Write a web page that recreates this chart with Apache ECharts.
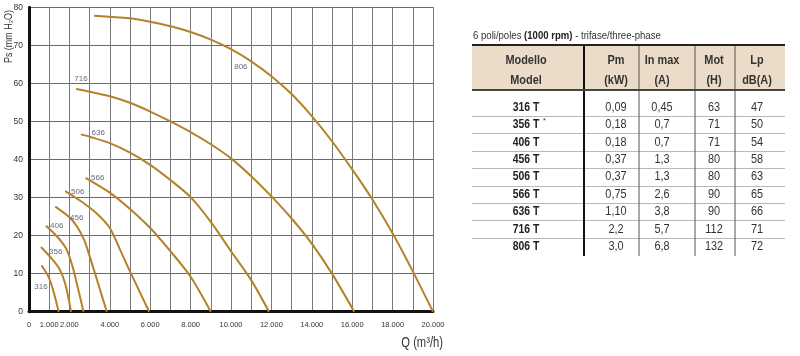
<!DOCTYPE html>
<html>
<head>
<meta charset="utf-8">
<script src="https://cdn.jsdelivr.net/npm/echarts@6/dist/echarts.min.js"></script>
<style>html,body{margin:0;padding:0;background:#fff}#c{width:800px;height:356px}</style>
</head>
<body>
<div id="c"></div>
<script>
// ---- data ----
const curveNames = ['806','716','636','566','506','456','406','356','316'];
const curve806 = [[3220,77.8],[5000,77.1],[6000,76.2],[7000,75.0],[8000,73.5],[9000,71.5],[10000,69.0],[11000,65.8],[12000,61.9],[13000,57.2],[14000,51.4],[15000,44.8],[16000,37.4],[17000,29.5],[18000,20.6],[19000,10.6],[20000,0]];
const curve716 = [[2330,58.5],[3000,57.8],[4000,56.6],[5000,54.9],[6000,52.6],[7000,50.0],[8000,47.2],[9000,44.0],[10000,40.3],[11000,35.6],[12000,30.3],[13000,24.5],[14000,17.9],[15000,10.0],[16100,0]];
const curve636 = [[2570,46.6],[3000,46.0],[4000,44.3],[5000,41.8],[6000,38.6],[7000,34.6],[8000,30.1],[9000,23.6],[10000,15.9],[11000,8.3],[11880,0]];
const curve566 = [[2800,35.2],[4000,31.3],[5000,27.0],[6000,22.0],[7000,15.9],[8000,9.2],[9000,0]];
const curve506 = [[1790,31.7],[2560,29.1],[3380,25.7],[4000,22.0],[4500,16.4],[5000,10.6],[5950,0]];
const curve456 = [[1300,27.6],[2000,24.8],[2400,22.2],[2750,18.6],[3000,14.6],[3400,7.8],[3850,0]];
const curve406 = [[840,22.6],[1400,19.7],[1850,16.5],[2150,12.0],[2350,7.8],[2700,0]];
const curve356 = [[590,17.0],[1000,14.7],[1490,11.4],[1800,7.2],[2080,0]];
const curve316 = [[620,12.2],[980,9.0],[1230,5.0],[1470,0]];
const curveLabelPos = [[10490,64.4],[2570,61.2],[3430,47.0],[3400,35.3],[2410,31.5],[2360,24.8],[1370,22.5],[1320,15.8],[590,6.6]];
const xLabelValues = [0,1000,2000,4000,6000,8000,10000,12000,14000,16000,18000,20000];

const tableTitle = ['6 poli/poles ', '(1000 rpm)', ' - trifase/three-phase'];
const headerTop = ['Modello','Pm','In max','Mot','Lp'];
const headerBottom = ['Model','(kW)','(A)','(H)','dB(A)'];
const models = ['316 T','356 T','406 T','456 T','506 T','566 T','636 T','716 T','806 T'];
const modelMarks = ['','*','','','','','','',''];
const pm = ['0,09','0,18','0,18','0,37','0,37','0,75','1,10','2,2','3,0'];
const inMax = ['0,45','0,7','0,7','1,3','1,3','2,6','3,8','5,7','6,8'];
const mot = ['63','71','71','80','80','90','90','112','132'];
const lp = ['47','50','54','58','63','65','66','71','72'];

// ---- style ----
const FONT = "'Liberation Sans',Arial,sans-serif";
const CURVE = '#b5812a';
const NARROW = 0.84;
const curves = [curve806,curve716,curve636,curve566,curve506,curve456,curve406,curve356,curve316];

const series = curves.map((d,i)=>({
  type:'line', name:curveNames[i], data:d, smooth:0.3, symbol:'none',
  lineStyle:{color:CURVE,width:2}, silent:true, z:3
}));
series.push({
  type:'scatter', symbolSize:1, itemStyle:{color:'rgba(0,0,0,0)'},
  data: curveLabelPos.map((p,i)=>({value:p,name:curveNames[i]})),
  label:{show:true,position:'inside',formatter:p=>p.name,fontFamily:FONT,fontSize:8,color:'#3c3f55'},
  silent:true, z:4
});

// ---- table graphics ----
const g = [];
const TX0 = 472, TX1 = 785;
const colX = [526, 616, 662, 714, 757];
const vLines = [[584,2,'#111'],[639,1,'#555'],[695,1,'#555'],[735,1,'#555']];
const rowY0 = 107.3, rowH = 17.4;
function txt(x,y,style,sx){
  return {type:'text', x:x, y:y, scaleX:sx||NARROW, style:Object.assign({x:0,y:0},style)};
}
g.push(txt(473,36,{
  text:'{n|'+tableTitle[0]+'}{b|'+tableTitle[1]+'}{n|'+tableTitle[2]+'}',
  verticalAlign:'middle',align:'left',
  rich:{n:{fontFamily:FONT,fontSize:11,fill:'#333'},b:{fontFamily:FONT,fontSize:11,fontWeight:'bold',fill:'#222'}}
},0.87));
g.push({type:'rect', shape:{x:TX0,y:45,width:TX1-TX0,height:45}, style:{fill:'#eadcc8'}});
for (let i=0;i<models.length-1;i++){
  const y = Math.round(rowY0 + i*rowH + rowH/2)+0.5;
  g.push({type:'line', shape:{x1:TX0,y1:y,x2:TX1,y2:y}, style:{stroke:'#b8b8b8',lineWidth:1}});
}
vLines.forEach(v=>g.push({type:'line', shape:{x1:v[0],y1:45,x2:v[0],y2:256}, style:{stroke:v[2],lineWidth:v[1]}}));
g.push({type:'line', shape:{x1:TX0,y1:45,x2:TX1,y2:45}, style:{stroke:'#222',lineWidth:2}});
g.push({type:'line', shape:{x1:TX0,y1:90,x2:TX1,y2:90}, style:{stroke:'#444',lineWidth:2}});
headerTop.forEach((t,i)=>{
  g.push(txt(colX[i],60,{text:t,fontFamily:FONT,fontSize:13,fontWeight:'bold',fill:'#333',align:'center',verticalAlign:'middle'}));
  g.push(txt(colX[i],80,{text:headerBottom[i],fontFamily:FONT,fontSize:13,fontWeight:'bold',fill:'#333',align:'center',verticalAlign:'middle'}));
});
const cols = [pm,inMax,mot,lp];
models.forEach((m,r)=>{
  const y = rowY0 + r*rowH;
  g.push(txt(colX[0],y,{text:m,fontFamily:FONT,fontSize:13,fontWeight:'bold',fill:'#222',align:'center',verticalAlign:'middle'},0.8));
  if (modelMarks[r]) g.push(txt(colX[0]+17,y-4,{text:modelMarks[r],fontFamily:FONT,fontSize:8,fill:'#222',align:'left',verticalAlign:'middle'}));
  cols.forEach((c,k)=>{
    g.push(txt(colX[k+1],y,{text:c[r],fontFamily:FONT,fontSize:13,fill:'#333',align:'center',verticalAlign:'middle'},0.84));
  });
});
// axis titles
g.push({type:'text', x:9, y:36.5, rotation:Math.PI/2, scaleX:0.85, style:{x:0,y:0,text:'Ps (mm H₂O)',fontFamily:FONT,fontSize:10.5,fill:'#333',align:'center',verticalAlign:'middle'}});
g.push(txt(443,343,{text:'Q (m³/h)',fontFamily:FONT,fontSize:14,fill:'#333',align:'right',verticalAlign:'middle'},0.8));

const fmtK = v => v===0 ? '0' : (v/1000).toFixed(0)+'.000';

const chart = echarts.init(document.getElementById('c'));
chart.setOption({
  animation:false,
  backgroundColor:'#fff',
  grid:{left:29,right:367,top:7.3,bottom:44.3,containLabel:false},
  xAxis:{type:'value',min:0,max:20000,interval:1000,
    axisLine:{show:true,onZero:false,lineStyle:{color:'#111',width:3}},
    axisTick:{show:false},
    splitLine:{show:true,lineStyle:{color:'#7a7a7a',width:1}},
    axisLabel:{show:true,margin:9,fontFamily:FONT,fontSize:7.5,color:'#333',showMinLabel:true,showMaxLabel:true,hideOverlap:false,
      formatter:v=> xLabelValues.indexOf(v)>=0 ? fmtK(v) : ''}
  },
  yAxis:{type:'value',min:0,max:80,interval:10,
    axisLine:{show:true,onZero:false,lineStyle:{color:'#111',width:3}},
    axisTick:{show:false},
    splitLine:{show:true,lineStyle:{color:'#6a6a6a',width:1}},
    axisLabel:{margin:6,fontFamily:FONT,fontSize:8.5,color:'#333'}
  },
  series:series,
  graphic:g
});
</script>
</body>
</html>
